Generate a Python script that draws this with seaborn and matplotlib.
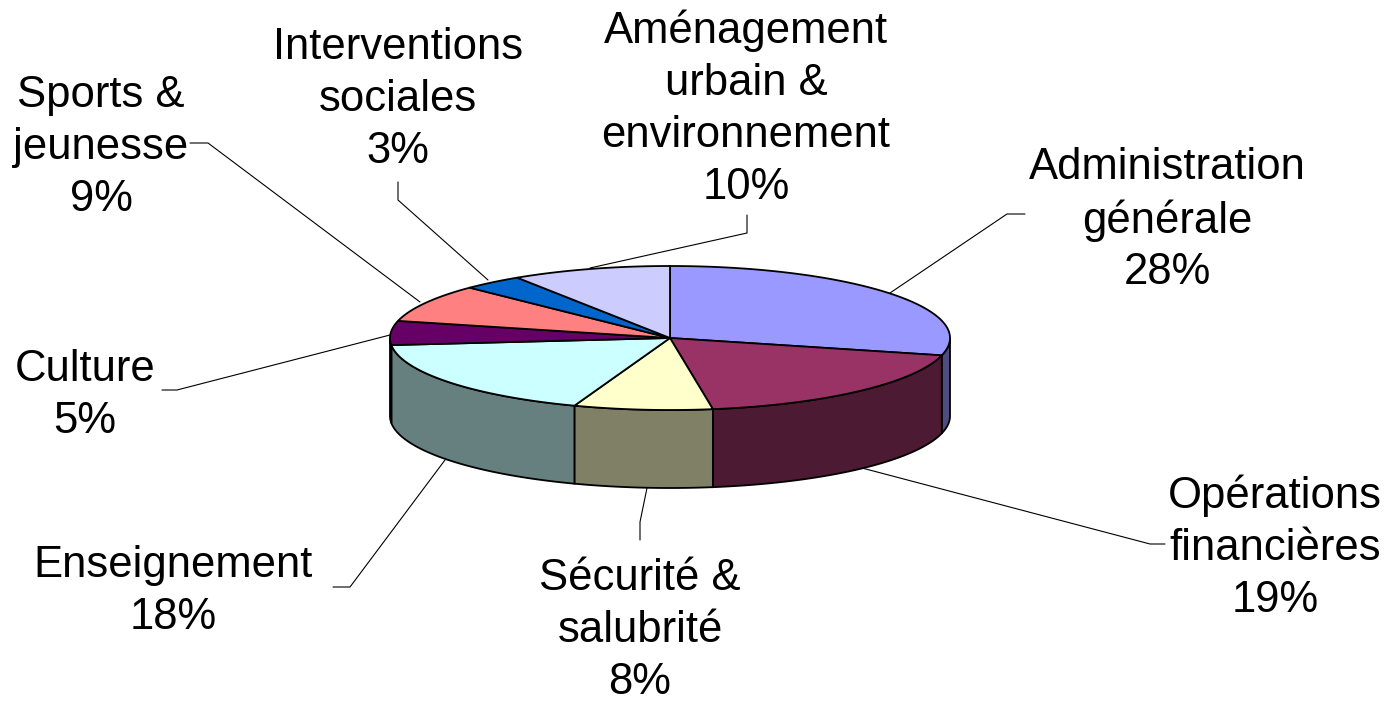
import numpy as np
import matplotlib
matplotlib.use("Agg")
import matplotlib.pyplot as plt
import seaborn as sns

labels = ["Administration\ngénérale", "Opérations\nfinancières", "Sécurité &\nsalubrité",
          "Enseignement", "Culture", "Sports &\njeunesse",
          "Interventions\nsociales", "Aménagement\nurbain &\nenvironnement"]
values = [28.9, 18.7, 8.0, 17.9, 5.4, 8.5, 3.5, 9.2]
shown = [28, 19, 8, 18, 5, 9, 3, 10]
top_colors = ["#9999FF", "#993366", "#FFFFCC", "#CCFFFF", "#660066", "#FF8080", "#0066CC", "#CCCCFF"]
side_colors = ["#4D4D80", "#4D1A33", "#808066", "#668080", "#330033", "#804040", "#003366", "#666680"]

# label centre, then leader line in pixels
label_pos = [(1167, 220), (1275, 548), (640, 630.5), (173, 591.5), (85, 395.5), (101, 147.5), (398, 99.5), (746, 109)]
leaders = [[(890, 293), (1007, 214), (1025, 214)],
           [(862, 468), (1150, 544), (1165, 544)],
           [(647, 488), (640, 522), (640, 540)],
           [(445, 460), (350, 587), (333, 587)],
           [(390, 335), (177, 390), (162, 390)],
           [(420, 302), (208, 143), (190, 143)],
           [(488, 280), (398, 200), (398, 182)],
           [(590, 268), (747, 233), (747, 215)]]

sns.set_theme(style="white")
plt.rcParams["font.family"] = ["Liberation Sans", "DejaVu Sans"]

fig, ax = plt.subplots(figsize=(13.91, 7.01), dpi=100)
ax.set_position([0, 0, 1, 1])
ax.set_xlim(0, 1391)
ax.set_ylim(701, 0)
ax.axis("off")

cx, cy, rx, ry, depth = 670, 338, 280, 72, 78


def rim(a, b):
    t = np.radians(np.linspace(a, b, 120))
    return cx + rx * np.sin(t), cy - ry * np.cos(t)


edges = np.concatenate([[0], np.cumsum(values)]) / sum(values) * 360

# sides first, only the front half shows
for i in range(len(values)):
    a, b = max(edges[i], 90), min(edges[i + 1], 270)
    if a >= b:
        continue
    x, y = rim(a, b)
    ax.fill(np.r_[x, x[::-1]], np.r_[y, y[::-1] + depth], fc=side_colors[i], ec="black", lw=1.3, zorder=2)

for i in range(len(values)):
    x, y = rim(edges[i], edges[i + 1])
    ax.fill(np.r_[cx, x], np.r_[cy, y], fc=top_colors[i], ec="black", lw=1.3, zorder=3)

for line in leaders:
    ax.plot(*zip(*line), color="black", lw=0.8, zorder=1)

for lab, val, pos in zip(labels, shown, label_pos):
    ax.text(pos[0], pos[1], f"{lab}\n{val}%", ha="center", va="center", fontsize=31.4,
            color="black", linespacing=1.34, zorder=4)

fig.savefig("out.png", dpi=100, facecolor="white")
